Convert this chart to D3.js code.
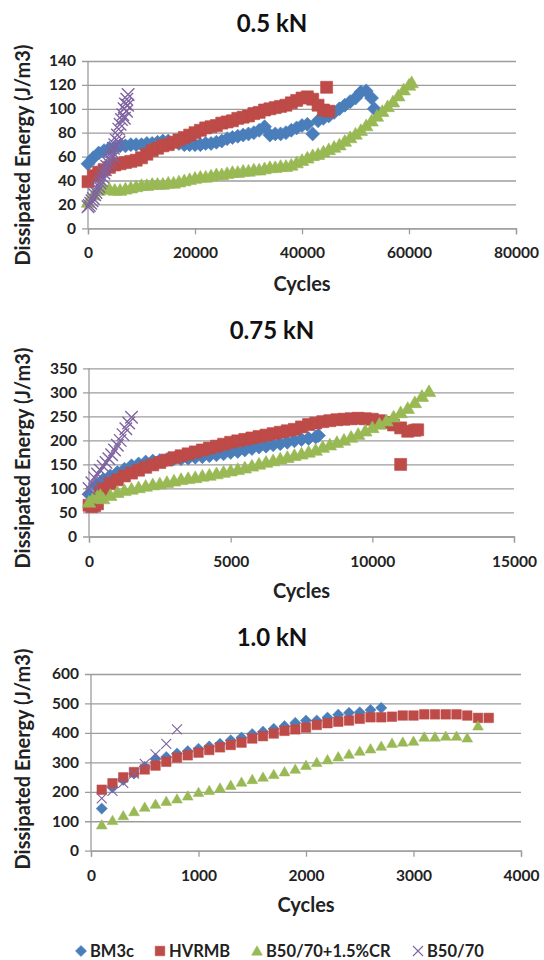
<!DOCTYPE html>
<html>
<head>
<meta charset="utf-8">
<script src="https://cdn.jsdelivr.net/npm/d3@7"></script>
<style>
  body { margin: 0; background: #fff; }
  svg { display: block; font-family: Lato, "Open Sans", sans-serif; font-weight: bold; }
</style>
</head>
<body>
<svg id="chart"></svg>
<script>
const w = 544;
const h = 960;

const seriesNames = ['BM3c', 'HVRMB', 'B50/70+1.5%CR', 'B50/70'];
const seriesColors = ['#4a7ebb', '#be4b48', '#98b954', '#7f63a1'];
const seriesShapes = ['diamond', 'square', 'triangle', 'cross'];

const chartTitles = ['0.5 kN', '0.75 kN', '1.0 kN'];
const xDomains = [[0, 80000], [0, 15000], [0, 4000]];
const yDomains = [[0, 140], [0, 350], [0, 600]];
const xTicks = [[0, 20000, 40000, 60000, 80000], [0, 5000, 10000, 15000], [0, 1000, 2000, 3000, 4000]];
const yTicks = [[0, 20, 40, 60, 80, 100, 120, 140], [0, 50, 100, 150, 200, 250, 300, 350], [0, 100, 200, 300, 400, 500, 600]];

// 0.5 kN  [cycles, dissipated energy]
const bm3c05 = [[0,54],[1000,59],[2000,63],[3000,65],[4000,67],[5000,68],[6000,69],[7000,69],[8000,70],[9000,70],
  [10000,70],[11000,71],[12000,71],[13000,72],[14000,73],[15000,73],[16000,72],[17000,71],[18000,70],[19000,70],
  [20000,70],[21000,70],[22000,71],[23000,71],[24000,72],[25000,73],[26000,75],[27000,76],[28000,77],[29000,78],
  [30000,79],[31000,80],[32000,82],[33000,85],[34000,78],[35000,79],[36000,79],[37000,80],[38000,82],[39000,84],
  [40000,86],[41000,87],[42000,79],[43000,90],[44000,92],[45000,94],[46000,97],[47000,100],[48000,103],[49000,106],
  [50000,109],[51000,114],[52000,115],[53000,109],[53500,100]];
const hvrmb05 = [[0,39],[1000,44],[2000,47],[3000,49],[4000,51],[5000,53],[6000,54],[7000,55],[8000,56],[9000,57],
  [10000,59],[11000,62],[12000,65],[13000,67],[14000,69],[15000,70],[16000,72],[17000,74],[18000,76],[19000,78],
  [20000,80],[21000,82],[22000,84],[23000,85],[24000,86],[25000,88],[26000,89],[27000,90],[28000,92],[29000,93],
  [30000,94],[31000,96],[32000,97],[33000,99],[34000,100],[35000,101],[36000,102],[37000,103],[38000,105],[39000,107],
  [40000,109],[41000,110],[42000,108],[43000,103],[44000,99],[45000,98],[44600,118]];
const cr05 = [[0,22],[1000,28],[2000,32],[3000,33],[4000,33],[5000,32],[6000,32],[7000,33],[8000,34],[9000,35],
  [10000,36],[11000,36],[12000,37],[13000,37],[14000,37],[15000,38],[16000,38],[17000,39],[18000,40],[19000,41],
  [20000,42],[21000,43],[22000,43],[23000,44],[24000,45],[25000,45],[26000,46],[27000,47],[28000,47],[29000,48],
  [30000,48],[31000,49],[32000,49],[33000,50],[34000,51],[35000,51],[36000,52],[37000,52],[38000,53],[39000,55],
  [40000,57],[41000,59],[42000,61],[43000,62],[44000,64],[45000,66],[46000,68],[47000,70],[48000,73],[49000,76],
  [50000,79],[51000,82],[52000,86],[53000,90],[54000,94],[55000,98],[56000,102],[57000,106],[58000,111],[59000,116],
  [60000,120],[60500,122]];
const b5070_05 = [[0,18],[250,19],[500,21],[750,23],[1000,25],[1250,28],[1500,30],[1750,33],[2000,35],[2250,38],
  [2500,40],[2750,43],[3000,46],[3250,49],[3500,52],[3750,55],[4000,58],[4250,61],[4500,64],[4750,67],
  [5000,70],[5250,74],[5500,78],[5750,83],[6000,87],[6250,91],[6500,95],[6750,100],[7000,104],[7250,108],
  [7500,112],[4800,60],[5800,72],[6800,92],[7200,98],[7400,103]];

// 0.75 kN
const bm3c075 = [[0,88],[250,105],[500,118],[750,126],[1000,133],[1250,140],[1500,147],[1750,151],[2000,155],[2250,157],
  [2500,158],[2750,160],[3000,162],[3250,162],[3500,163],[3750,165],[4000,166],[4250,168],[4500,170],[4750,172],
  [5000,175],[5250,177],[5500,180],[5750,183],[6000,186],[6250,188],[6500,191],[6750,193],[7000,196],[7250,199],
  [7500,202],[7750,204],[8000,207],[8100,210]];
const hvrmb075 = [[0,65],[100,62],[200,64],[300,68],[400,92],[500,100],[750,110],[1000,118],[1250,126],[1500,132],
  [1750,138],[2000,144],[2250,149],[2500,154],[2750,159],[3000,164],[3250,168],[3500,172],[3750,176],[4000,180],
  [4250,184],[4500,188],[4750,192],[5000,196],[5250,199],[5500,202],[5750,205],[6000,208],[6250,211],[6500,214],
  [6750,217],[7000,220],[7250,223],[7500,228],[7750,233],[8000,236],[8250,239],[8500,241],[8750,243],[9000,244],
  [9250,245],[9500,246],[9750,245],[10000,244],[10250,241],[10500,237],[10750,232],[11000,226],[11250,219],[11500,221],
  [11600,222],[11000,150]];
const cr075 = [[0,72],[150,80],[300,84],[400,86],[500,79],[750,86],[1000,92],[1250,96],[1500,99],[1750,102],
  [2000,105],[2250,108],[2500,110],[2750,113],[3000,116],[3250,119],[3500,121],[3750,123],[4000,126],[4250,128],
  [4500,131],[4750,134],[5000,137],[5250,140],[5500,143],[5750,147],[6000,151],[6250,155],[6500,158],[6750,162],
  [7000,165],[7250,169],[7500,172],[7750,176],[8000,180],[8250,186],[8500,191],[8750,196],[9000,201],[9250,207],
  [9500,213],[9750,220],[10000,227],[10250,234],[10500,241],[10750,249],[11000,258],[11250,267],[11500,279],[11750,292],
  [12000,302]];
const b5070_075 = [[0,100],[100,112],[200,122],[300,130],[400,138],[500,146],[600,154],[700,162],[800,170],[900,180],
  [1000,190],[1100,200],[1200,212],[1300,224],[1400,236],[1500,248]];

// 1.0 kN
const bm3c10 = [[100,143],[200,215],[300,240],[400,262],[500,285],[600,312],[700,318],[800,330],[900,338],[1000,346],
  [1100,354],[1200,363],[1300,375],[1400,384],[1500,396],[1600,404],[1700,414],[1800,423],[1900,434],[2000,442],
  [2100,442],[2200,452],[2300,462],[2400,468],[2500,470],[2600,478],[2700,485]];
const hvrmb10 = [[100,207],[200,229],[300,249],[400,267],[500,276],[600,289],[700,302],[800,316],[900,324],[1000,333],
  [1100,342],[1200,351],[1300,359],[1400,367],[1500,381],[1600,389],[1700,398],[1800,407],[1900,412],[2000,418],
  [2100,427],[2200,433],[2300,438],[2400,442],[2500,448],[2600,453],[2700,453],[2800,455],[2900,459],[3000,459],
  [3100,463],[3200,463],[3300,463],[3400,463],[3500,459],[3600,451],[3700,451]];
const cr10 = [[100,88],[200,103],[300,119],[400,133],[500,148],[600,158],[700,168],[800,176],[900,186],[1000,198],
  [1100,205],[1200,213],[1300,222],[1400,233],[1500,242],[1600,250],[1700,259],[1800,268],[1900,277],[2000,290],
  [2100,300],[2200,309],[2300,319],[2400,328],[2500,338],[2600,346],[2700,355],[2800,365],[2900,369],[3000,372],
  [3100,386],[3200,386],[3300,389],[3400,389],[3500,383],[3600,424]];
const b5070_10 = [[100,178],[200,203],[300,230],[400,262],[500,295],[600,327],[700,363],[800,412]];

const chartSeries = [
  [bm3c05, hvrmb05, cr05, b5070_05],
  [bm3c075, hvrmb075, cr075, b5070_075],
  [bm3c10, hvrmb10, cr10, b5070_10]
];

// panel layout
const panels = [
  { left: 88, right: 516, top: 61, bottom: 228.3, titleY: 32, cyclesY: 291, yTitleY: 155, mk: 1.25 },
  { left: 89, right: 514, top: 368.3, bottom: 536.5, titleY: 339, cyclesY: 598, yTitleY: 458, mk: 1.25 },
  { left: 91, right: 521, top: 674, bottom: 850.7, titleY: 646, cyclesY: 912, yTitleY: 759, mk: 1 }
];

const svg = d3.select('#chart').attr('width', w).attr('height', h);
svg.append('rect').attr('width', w).attr('height', h).attr('fill', '#fff');

const gridColor = '#9c9c9c';
const textColor = '#222';

let markerPath = (shape) => {
  if (shape === 'diamond') return 'M0,-5.6L5.6,0L0,5.6L-5.6,0Z';
  if (shape === 'square') return 'M-4.8,-4.8H4.8V4.8H-4.8Z';
  if (shape === 'triangle') return 'M0,-5.2L5.4,4.2H-5.4Z';
  return 'M-5,-5L5,5M-5,5L5,-5';
}

let drawMarkers = (g, data, i, x, y, mk) => {
  const shape = seriesShapes[i];
  const cross = shape === 'cross';
  g.append('g')
    .selectAll('path')
    .data(data)
    .enter()
    .append('path')
    .attr('d', markerPath(shape))
    .attr('transform', (d) => `translate(${x(d[0])},${y(d[1])}) scale(${mk})`)
    .attr('fill', cross ? 'none' : seriesColors[i])
    .attr('stroke', seriesColors[i])
    .attr('stroke-width', cross ? 1.1 : 0.5);
}

panels.forEach((p, k) => {
  const x = d3.scaleLinear().domain(xDomains[k]).range([p.left, p.right]);
  const y = d3.scaleLinear().domain(yDomains[k]).range([p.bottom, p.top]);
  const pw = p.right - p.left;

  // y axis + gridlines
  const yAxis = svg.append('g')
    .attr('transform', `translate(${p.left},0)`)
    .call(d3.axisLeft(y).tickValues(yTicks[k]).tickSize(-pw).tickPadding(12));
  yAxis.select('.domain').remove();
  yAxis.selectAll('.tick line').attr('x1', -6).attr('stroke', gridColor).attr('stroke-width', 1.3);
  yAxis.selectAll('.tick text')
    .attr('x', -12)
    .attr('fill', textColor)
    .style('font-size', '15.5px')
    .style('font-family', 'Lato, sans-serif')
    .style('font-weight', 'bold');

  svg.append('line')
    .attr('x1', p.left).attr('x2', p.left)
    .attr('y1', p.top).attr('y2', p.bottom)
    .attr('stroke', gridColor).attr('stroke-width', 1.3);

  // x axis
  const xAxis = svg.append('g')
    .attr('transform', `translate(0,${p.bottom})`)
    .call(d3.axisBottom(x).tickValues(xTicks[k]).tickSize(6).tickPadding(13).tickFormat(d3.format('d')));
  xAxis.select('.domain').attr('stroke', gridColor).attr('stroke-width', 1.3);
  xAxis.selectAll('.tick line').attr('stroke', gridColor).attr('stroke-width', 1.3);
  xAxis.selectAll('.tick text')
    .attr('fill', textColor)
    .style('font-size', '15.5px')
    .style('font-family', 'Lato, sans-serif')
    .style('font-weight', 'bold');

  // series
  chartSeries[k].forEach((data, i) => drawMarkers(svg, data, i, x, y, p.mk));

  // titles
  svg.append('text')
    .attr('x', w / 2).attr('y', p.titleY)
    .attr('text-anchor', 'middle')
    .attr('fill', '#111')
    .style('font-size', '24px')
    .text(chartTitles[k]);

  svg.append('text')
    .attr('x', (p.left + p.right) / 2).attr('y', p.cyclesY)
    .attr('text-anchor', 'middle')
    .attr('fill', textColor)
    .style('font-size', '20px')
    .text('Cycles');

  svg.append('text')
    .attr('transform', `translate(30,${p.yTitleY}) rotate(-90)`)
    .attr('text-anchor', 'middle')
    .attr('fill', textColor)
    .style('font-size', '20px')
    .text('Dissipated Energy (J/m3)');
});

// legend
const legendX = [81, 160, 257, 418];
const legendY = 951;
const legend = svg.append('g');
seriesNames.forEach((name, i) => {
  const cross = seriesShapes[i] === 'cross';
  legend.append('path')
    .attr('d', markerPath(seriesShapes[i]))
    .attr('transform', `translate(${legendX[i]},${legendY})`)
    .attr('fill', cross ? 'none' : seriesColors[i])
    .attr('stroke', seriesColors[i])
    .attr('stroke-width', cross ? 1.1 : 0.5);
  legend.append('text')
    .attr('x', legendX[i] + 9).attr('y', legendY + 6)
    .attr('fill', textColor)
    .style('font-size', '16.5px')
    .text(name);
});
</script>
</body>
</html>
